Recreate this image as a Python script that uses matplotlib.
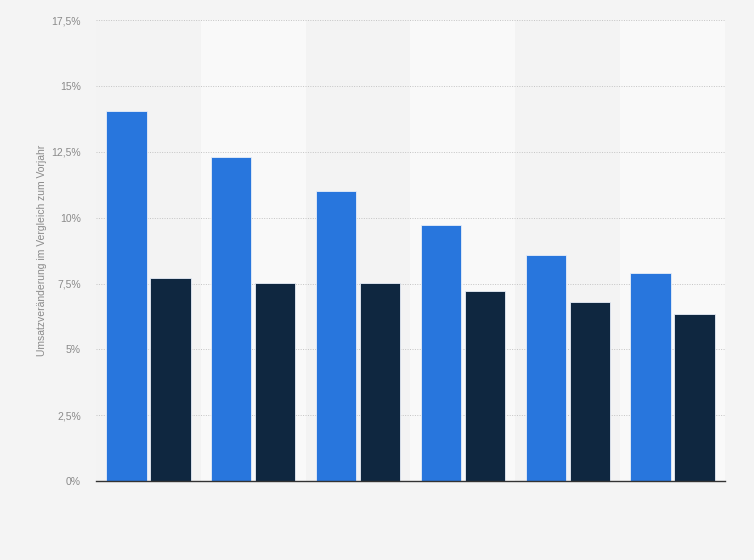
import numpy as np
import matplotlib.pyplot as plt
from matplotlib.ticker import FuncFormatter

# values (percent change vs previous year)
groups = ['', '', '', '', '', '']
series_a = [14.05, 12.3, 11.0, 9.72, 8.58, 7.9]
series_b = [7.7, 7.52, 7.52, 7.21, 6.8, 6.33]

blue = '#2876dd'
dark = '#0f2740'

plt.rcParams['font.family'] = ['Liberation Sans', 'DejaVu Sans']

fig = plt.figure(figsize=(7.54, 5.6), dpi=100)
fig.patch.set_facecolor('#f4f4f4')
ax = fig.add_axes([0.1273, 0.141, 0.8342, 0.823])
ax.set_facecolor('#f3f3f3')

x = np.arange(len(groups))

# alternating column bands
for i in x:
    if i % 2 == 1:
        ax.axvspan(i - 0.5, i + 0.5, color='#f9f9f9', zorder=0, lw=0)

w = 0.385
ax.bar(x - 0.21, series_a, w, color=blue, edgecolor='#e8eef8', linewidth=0.6, zorder=3)
ax.bar(x + 0.21, series_b, w, color=dark, edgecolor='#e8eef8', linewidth=0.6, zorder=3)

ax.set_xlim(-0.5, len(groups) - 0.5)
ax.set_ylim(0, 17.5)
ax.set_yticks(np.arange(0, 17.6, 2.5))

def pct(v, pos):
    s = ('%.1f' % v).rstrip('0').rstrip('.')
    return s.replace('.', ',') + '%'

ax.yaxis.set_major_formatter(FuncFormatter(pct))
ax.set_xticks([])
ax.tick_params(axis='y', length=0, pad=11, labelsize=7.5, labelcolor='#8a8a8a')
ax.grid(axis='y', color='#c4c4c4', linestyle=(0, (1, 1.5)), linewidth=0.7, zorder=1)

for s in ['top', 'left', 'right']:
    ax.spines[s].set_visible(False)
ax.spines['bottom'].set_color('#333333')
ax.spines['bottom'].set_linewidth(1.0)
ax.spines['bottom'].set_zorder(4)

ax.set_ylabel('Umsatzveränderung im Vergleich zum Vorjahr', fontsize=7.5, color='#8a8a8a')
ax.yaxis.set_label_coords(-0.078, 0.5)

plt.savefig('out.png', dpi=100, facecolor=fig.get_facecolor())
